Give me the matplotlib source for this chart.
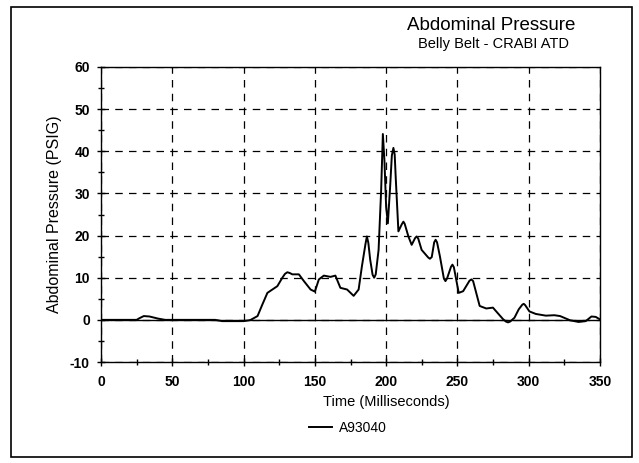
import numpy as np
import matplotlib
matplotlib.use('Agg')
import matplotlib.pyplot as plt
from matplotlib.patches import Rectangle

plt.rcParams['font.family'] = ['Liberation Sans', 'DejaVu Sans']
plt.rcParams['axes.unicode_minus'] = False

# Time (ms) and abdominal pressure (PSIG)
time_ms = [0, 25, 27, 30, 34, 40, 45, 80, 85, 95, 100, 104, 105,
           109.8, 113, 116.7, 120.2, 123.7, 127.2, 129, 130.7, 132.5, 134.2, 138.8,
           142.3, 147, 150, 152.8, 156.3, 161, 164.4, 167.9, 172.6,
           177.2, 180.7, 183, 185.5, 186.5, 187.5, 188.8, 190.5, 191.6, 192.7,
           194.7, 196.5, 197.7,
           198.8, 200, 201.2, 202.8, 204, 205.1, 206, 206.7, 208.6, 211, 212.1,
           213, 215.6, 217.9, 220.3, 221.4, 222.5, 224.9, 229.5, 230.7, 232,
           233.7, 234.7, 235.7, 237.7, 240.5, 241.6, 242.7, 245.5, 246.5, 247.5,
           250.9, 254, 258.5, 259.8, 261, 265.6, 270.2, 274.9, 281.9, 284,
           285.5, 287, 290, 293, 295.5, 296.5, 297.5,
           300.5, 305, 312, 318, 322, 329, 335, 340, 344, 347, 350]
pressure = [0, 0, 0.4, 0.9, 0.8, 0.3, 0, 0, -0.3, -0.3, -0.3, -0.1, 0,
            0.9, 3.5, 6.4, 7.2, 8.0, 10.0, 10.9, 11.3, 11.1, 10.8, 10.8,
            9.2, 7.2, 6.7, 9.6, 10.5, 10.2, 10.5, 7.6, 7.2,
            5.7, 7.2, 12.7, 18.0, 19.8, 18.3, 14.3, 10.7, 10.0, 10.8,
            16.6, 30.8, 44.1,
            37.8, 26.8, 22.9, 31.6, 39.0, 40.8, 39.2, 33.9, 21.0, 22.7, 23.3,
            22.8, 19.8, 17.8, 19.4, 19.8, 19.3, 16.6, 14.8, 14.5, 14.9,
            18.4, 19.0, 18.4, 15.1, 9.8, 9.2, 9.8, 12.6, 13.1, 12.5,
            6.4, 6.8, 9.3, 9.6, 9.2, 3.3, 2.7, 2.9, 0.2, -0.4,
            -0.6, -0.4, 0.5, 2.5, 3.6, 3.8, 3.5,
            2.0, 1.4, 1.0, 1.1, 0.9, -0.1, -0.5, -0.3, 0.8, 0.7, 0.1]

x_ticks = np.arange(0, 351, 50)
y_ticks = np.arange(-10, 61, 10)

fig = plt.figure(figsize=(6.39, 4.63), dpi=100)
W, H = 639, 463
ax = fig.add_axes([101/W, 1 - 362/H, 499/W, 295/H])

ax.plot(time_ms, pressure, color='black', lw=1.4, label='A93040', zorder=3)
ax.axhline(0, color='black', lw=1.0, zorder=2)

ax.set_xlim(0, 350)
ax.set_ylim(-10, 60)
ax.set_xticks(x_ticks)
ax.set_yticks(y_ticks)
ax.set_xticks(np.arange(25, 350, 50), minor=True)
ax.set_yticks(np.arange(-5, 60, 10), minor=True)
ax.tick_params(which='both', direction='inout', length=6, width=1, colors='black')
ax.tick_params(which='minor', length=5)
ax.tick_params(axis='x', pad=6)
ax.tick_params(axis='y', pad=5)
for lab in ax.get_xticklabels() + ax.get_yticklabels():
    lab.set_fontweight('bold')
    lab.set_fontsize(10)

ax.grid(True, which='major', color='black', ls=(0, (6, 5)), lw=0.9)
for sp in ax.spines.values():
    sp.set_linewidth(1.0)

ax.set_xlabel('Time (Milliseconds)', fontsize=10.5)
ax.xaxis.set_label_coords(200/350, -(404 - 362)/295 + 0.03)
ax.set_ylabel('Abdominal Pressure (PSIG)', fontsize=11.5, labelpad=6)

fig.text(491/W, 1 - 25/H, 'Abdominal Pressure', ha='center', va='center', fontsize=13.5)
fig.text(493/W, 1 - 44/H, 'Belly Belt - CRABI ATD', ha='center', va='center', fontsize=10.5)

fig.legend(loc='center', bbox_to_anchor=(348/W, 1 - 428/H), frameon=False,
           fontsize=10, handlelength=1.6, handletextpad=0.5)

fig.patches.append(Rectangle((11/W, 1 - 457/H), 621/W, 450/H, transform=fig.transFigure,
                             fill=False, edgecolor='black', lw=1.2))

fig.savefig('out.png', dpi=100)
